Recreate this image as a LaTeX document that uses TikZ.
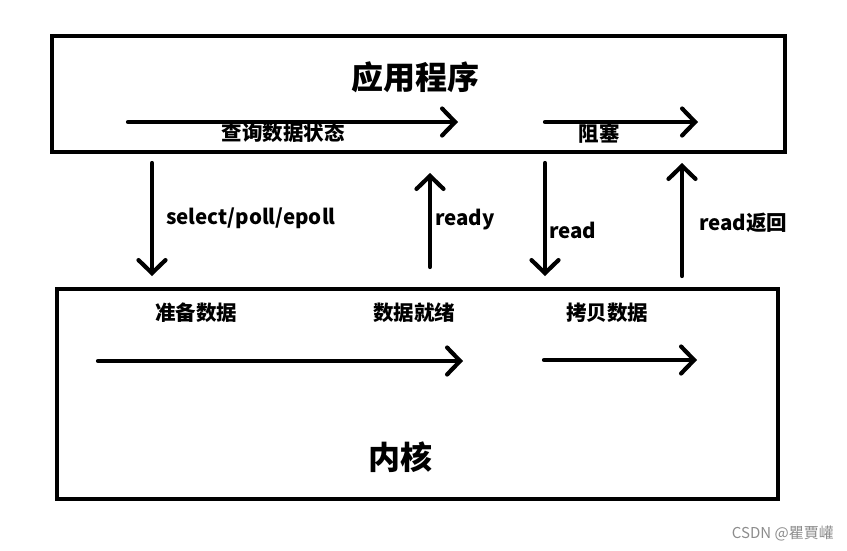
\documentclass[tikz,border=0pt]{standalone}
\usepackage{fontspec}
\setmainfont{Noto Sans CJK SC}
\usetikzlibrary{arrows.meta,positioning}
\tikzset{
  layer/.style   = {draw, line width=4pt, rectangle, inner sep=0pt},
  flow/.style    = {-{Straight Barb[length=13pt,width=27pt,line cap=round]}, line width=4.2pt, line cap=round},
  call/.style    = {flow},
  tag/.style     = {font=\fontsize{20.5}{22}\selectfont\bfseries, inner sep=0pt},
  title/.style   = {font=\fontsize{32}{36}\selectfont\bfseries, inner sep=0pt},
  mark cs/.style = {font=\fontsize{15}{17}\selectfont, text=black!45, inner sep=0pt}
}

\begin{document}
\begin{tikzpicture}[x=1pt,y=-1pt]
      \useasboundingbox (0,0) rectangle (847,550);
      \node[layer, minimum width=733pt, minimum height=116.5pt] (app) at (418.5,93.75) {};
      \node[layer, minimum width=721pt, minimum height=210.5pt] (kernel) at (417,393.75) {};
      \node[title] (apptitle) at (415,77) {应用程序};
      \node[title] (kerneltitle) at (400,457) {内核};

      % user space
      \coordinate (q1) at (128,122);   \coordinate (q2) at (458,122);
      \coordinate (b1) at (545,122);   \coordinate (b2) at (698,122);
      \draw[flow] (q1) -- (q2);
      \draw[flow] (b1) -- (b2);
      \node[tag] (query) at (283,133) {查询数据状态};
      \node[tag] (block) at (599,133) {阻塞};

      % calls between the two
      \coordinate (s1) at (152,163);   \coordinate (s2) at (152,276);
      \coordinate (r1) at (430,267);   \coordinate (r2) at (430,173);
      \coordinate (d1) at (545,163);   \coordinate (d2) at (545,276);
      \coordinate (e1) at (682,276);   \coordinate (e2) at (682,163);
      \draw[call] (s1) -- (s2);
      \draw[call] (r1) -- (r2);
      \draw[call] (d1) -- (d2);
      \draw[call] (e1) -- (e2);
      \node[tag, anchor=west] (select) at (166,218) {select/poll/epoll};
      \node[tag, anchor=west] (ready) at (435,220) {ready};
      \node[tag, anchor=west] (read) at (549,230) {read};
      \node[tag, anchor=west] (readret) at (699,223) {read返回};

      % kernel
      \node[tag] (prep) at (196,313) {准备数据};
      \node[tag] (done) at (414,313) {数据就绪};
      \node[tag] (copy) at (607,313) {拷贝数据};
      \coordinate (k1) at (98,361);    \coordinate (k2) at (463,361);
      \coordinate (c1) at (544,360);   \coordinate (c2) at (697,360);
      \draw[flow] (k1) -- (k2);
      \draw[flow] (c1) -- (c2);

      \node[mark cs, anchor=east] (wm) at (834,533) {CSDN @瞿賈巏};
\end{tikzpicture}
\end{document}
